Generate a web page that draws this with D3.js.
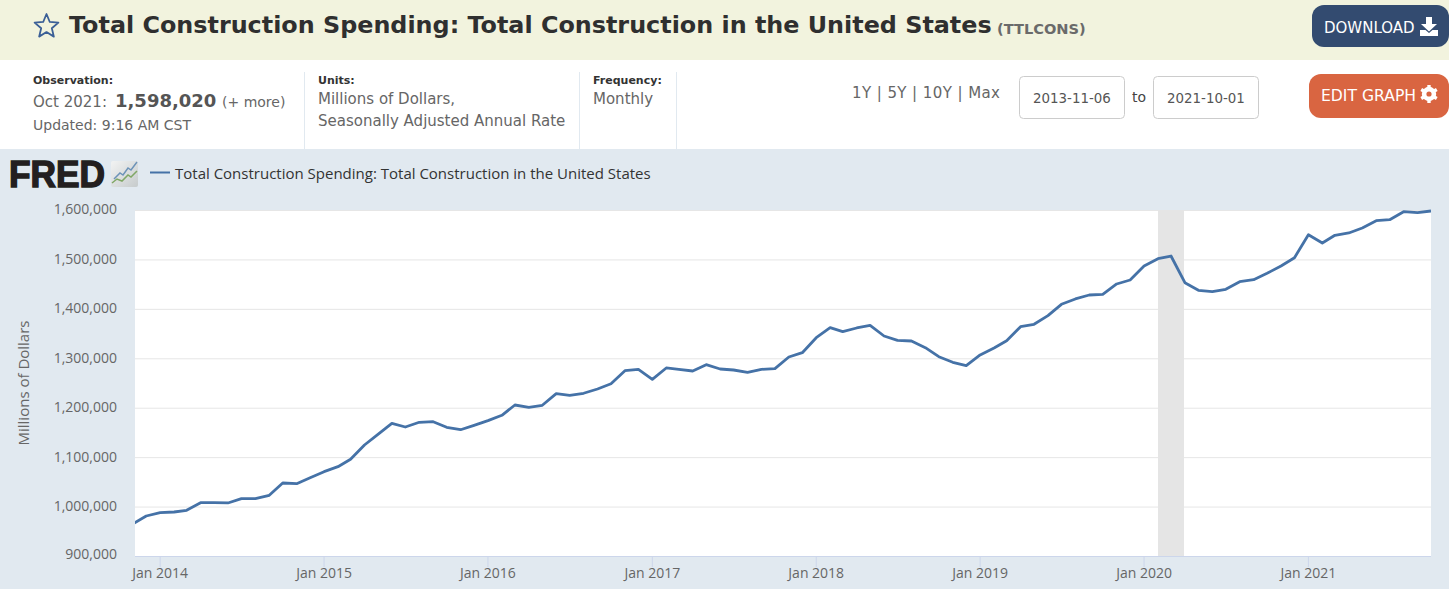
<!DOCTYPE html>
<html><head><meta charset="utf-8">
<script src="https://cdn.jsdelivr.net/npm/d3@7"></script>
<style>
html,body{margin:0;padding:0;background:#fff;overflow:hidden}
svg{display:block}
.ui{font-family:"DejaVu Sans",Verdana,sans-serif}
.ch{font-family:"Open Sans",sans-serif}
</style></head><body>
<svg id="c" width="1449" height="589"></svg>
<script>
const startMonth = "2013-11-01";
const seriesValues = [
 965000,980900,987600,989000,992500,1007900,1007900,1007300,1016000,1016000,1022800,1047700,1046300,1058400,
 1070600,1080700,1095700,1124600,1146200,1168500,1161000,1170500,1171700,1160400,1155500,1164400,
 1173800,1184700,1205500,1200900,1204900,1228400,1225100,1229200,1237900,1248600,1274900,1277700,
 1257500,1280400,1277700,1274300,1287000,1278300,1276300,1271700,1277700,1279000,1302600,1311300,
 1341700,1361900,1353800,1361300,1366700,1345100,1336400,1335000,1321400,1303200,1291900,1285000,
 1306700,1320800,1335600,1363900,1368800,1386200,1409200,1420000,1428000,1429500,1450300,1458400,
 1486700,1501500,1506900,1452900,1437600,1434700,1439600,1455000,1459000,1471900,1486700,1503500,
 1550000,1533200,1548800,1553500,1563600,1578400,1580400,1596600,1594500,1598020];
const yTicks = [900000,1000000,1100000,1200000,1300000,1400000,1500000,1600000];
const xTickYears = [2014,2015,2016,2017,2018,2019,2020,2021];
const recession = ["2020-02-01","2020-04-01"];
const domainDates = ["2013-11-06","2021-10-01"];
const titleText = "Total Construction Spending: Total Construction in the United States";
const seriesId = "(TTLCONS)";
const rangeLinks = ["1Y","5Y","10Y","Max"];

const parse = d3.utcParse("%Y-%m-%d");
const months = d3.utcMonth.range(parse(startMonth), d3.utcMonth.offset(parse(startMonth), seriesValues.length));
const data = months.map((d,i)=>({date:d,value:seriesValues[i]}));

const svg = d3.select("#c");
const bands = [[0,0,1449,60,"#f2f3de"],[0,60,1449,89,"#fff"],[0,149,1449,440,"#e1e9f0"]];
svg.selectAll("rect.bg").data(bands).join("rect").attr("class","bg")
  .attr("x",d=>d[0]).attr("y",d=>d[1]).attr("width",d=>d[2]).attr("height",d=>d[3]).attr("fill",d=>d[4]);

// header
function star(cx,cy,R,r){const p=[];for(let i=0;i<10;i++){const a=-Math.PI/2+i*Math.PI/5,q=i%2?r:R;p.push([cx+q*Math.cos(a),cy+q*Math.sin(a)]);}return p.join(" ");}
svg.append("polygon").attr("points",star(46.5,26.5,12.5,5.6)).attr("fill","none").attr("stroke","#3b5f96").attr("stroke-width",1.8).attr("stroke-linejoin","round");
svg.append("text").attr("class","ui").attr("x",69).attr("y",33).attr("font-size",23.85).attr("font-weight",700).attr("fill","#2f2f2f").attr("id","ttl").text(titleText);
svg.append("text").attr("class","ui").attr("x",997).attr("y",34).attr("font-size",14.6).attr("font-weight",700).attr("fill","#6a6a6a").text(seriesId);

// download button
svg.append("rect").attr("x",1312).attr("y",5).attr("width",137).attr("height",42).attr("rx",12).attr("fill","#334b70");
svg.append("text").attr("class","ui").attr("x",1324).attr("y",33).attr("font-size",15).attr("fill","#fff").text("DOWNLOAD");
svg.append("path").attr("d","M1426 17h6v7h5l-8 7.500-8-7.500h5zM1420 30h5.500l3.500 3 3.500-3h5.500v6h-18z").attr("fill","#fff");

// edit button
svg.append("rect").attr("x",1309).attr("y",74).attr("width",140).attr("height",44).attr("rx",12).attr("fill","#d96541");
svg.append("text").attr("class","ui").attr("x",1321).attr("y",101).attr("font-size",15.6).attr("fill","#fff").text("EDIT GRAPH");
svg.append("circle").attr("cx",1429).attr("cy",94).attr("r",4.9).attr("fill","none").attr("stroke","#fff").attr("stroke-width",4.6);
svg.selectAll("line.gear").data(d3.range(6)).join("line").attr("class","gear")
  .attr("x1",d=>1429+5*Math.cos(d*Math.PI/3+Math.PI/6)).attr("y1",d=>94+5*Math.sin(d*Math.PI/3+Math.PI/6))
  .attr("x2",d=>1429+9*Math.cos(d*Math.PI/3+Math.PI/6)).attr("y2",d=>94+9*Math.sin(d*Math.PI/3+Math.PI/6))
  .attr("stroke","#fff").attr("stroke-width",3.4);

// meta
const T=(x,y,s,fs,fill,w)=>svg.append("text").attr("class","ui").attr("x",x).attr("y",y).attr("font-size",fs).attr("fill",fill).attr("font-weight",w||400).text(s);
T(33,84,"Observation:",11,"#333",700);
T(33,107,"Oct 2021:",15,"#666");
T(115,107,"1,598,020",18,"#555",700);
T(222,107,"(+ more)",14,"#666");
T(33,130,"Updated: 9:16 AM CST",14,"#666");
T(318,84,"Units:",11,"#333",700);
T(318,104,"Millions of Dollars,",15,"#666");
T(318,126,"Seasonally Adjusted Annual Rate",15,"#666");
T(593,84,"Frequency:",11,"#333",700);
T(593,104,"Monthly",15,"#666");
svg.selectAll("line.sep").data([304.5,579.5,676.5]).join("line").attr("class","sep")
  .attr("x1",d=>d).attr("x2",d=>d).attr("y1",72).attr("y2",149).attr("stroke","#e1e9f0");

T(852,98,rangeLinks.join(" | "),15,"#666").attr("textLength",148).attr("lengthAdjust","spacing");

[[1019,"2013-11-06"],[1153,"2021-10-01"]].forEach(([x,s])=>{
  svg.append("rect").attr("x",x+.5).attr("y",76.5).attr("width",105).attr("height",42).attr("rx",4).attr("fill","#fff").attr("stroke","#ccc");
  T(x+14,102.5,s,13.4,"#555");
});
T(1132,102,"to",14,"#444");

// FRED logo
svg.append("text").attr("x",9).attr("y",187).attr("font-family","Liberation Sans").attr("font-weight",700).attr("font-size",36)
  .attr("textLength",96).attr("lengthAdjust","spacingAndGlyphs").attr("fill","#231f20").attr("stroke","#231f20").attr("stroke-width",1.4).text("FRED");
const grad=svg.append("defs").append("linearGradient").attr("id","logoBg").attr("x1",0).attr("y1",0).attr("x2",1).attr("y2",1);
grad.append("stop").attr("offset",0).attr("stop-color","#f2f3f3");
grad.append("stop").attr("offset",1).attr("stop-color","#c6cbcc");
svg.append("rect").attr("x",111).attr("y",161).attr("width",27).attr("height",26).attr("rx",2).attr("fill","url(#logoBg)");
svg.append("path").attr("d","M112 183l5-4 5 2 6-6 3 2 6-6").attr("fill","none").attr("stroke","#7fa765").attr("stroke-width",1.5);
svg.append("path").attr("d","M114 179l6-6 3 2 5-7 3 2 6-8").attr("fill","none").attr("stroke","#6d93b8").attr("stroke-width",1.5);

// legend
svg.append("line").attr("x1",150).attr("x2",170).attr("y1",172.5).attr("y2",172.5).attr("stroke","#4572a7").attr("stroke-width",2);
svg.append("text").attr("class","ch").attr("x",175).attr("y",179).attr("font-size",15).attr("fill","#333").attr("id","leg").text(titleText);

// chart
const pL=135,pR=1431,pT=210,pB=556;
const x=d3.scaleUtc().domain(domainDates.map(parse)).range([pL,pR]);
const y=d3.scaleLinear().domain([d3.min(yTicks),d3.max(yTicks)]).range([pB,pT]);

svg.append("rect").attr("x",pL).attr("y",pT).attr("width",pR-pL).attr("height",pB-pT).attr("fill","#fff");
svg.append("defs").append("clipPath").attr("id","plot").append("rect").attr("x",pL).attr("y",pT-2).attr("width",pR-pL).attr("height",pB-pT+2);

const yAxis=d3.axisLeft(y).tickValues(yTicks).tickFormat(d3.format(",")).tickSize(-(pR-pL)).tickPadding(18);
const gy=svg.append("g").attr("transform",`translate(${pL},0)`).call(yAxis);
gy.attr("font-family",null).attr("font-size",null);
gy.select(".domain").remove();
gy.selectAll("line").attr("stroke","#e6e6e6").attr("stroke-width",1);
gy.selectAll(".tick").filter(d=>d===900000).select("line").attr("stroke","#ccd6eb");
gy.selectAll("text").attr("class","ch").attr("font-size",14).attr("fill","#666").attr("dy",null)
  .attr("y",d=> d===900000? 2 : d===1600000? 3 : 4);

svg.append("rect").attr("x",Math.round(x(parse(recession[0])))).attr("y",pT)
  .attr("width",26).attr("height",pB-pT).attr("fill","#e5e5e5");

const xAxis=d3.axisBottom(x).tickValues(xTickYears.map(v=>new Date(Date.UTC(v,0,1)))).tickFormat(d3.utcFormat("%b %Y")).tickSize(11).tickPadding(1);
const gx=svg.append("g").attr("transform",`translate(-0.5,${pB})`).call(xAxis);
gx.attr("font-family",null).attr("font-size",null);
gx.select(".domain").remove();
gx.selectAll("line").attr("stroke","#ccd6eb");
gx.selectAll("text").attr("class","ch").attr("font-size",14).attr("fill","#666");

const line=d3.line().x(d=>x(d.date)).y(d=>y(d.value));
svg.append("path").datum(data).attr("clip-path","url(#plot)").attr("d",line).attr("fill","none").attr("stroke","#4572a7").attr("stroke-width",2.8).attr("stroke-linejoin","round");

svg.append("text").attr("class","ch").attr("transform","translate(29,383) rotate(-90)").attr("text-anchor","middle").attr("font-size",15).attr("fill","#666").text("Millions of Dollars");
</script></body></html>
